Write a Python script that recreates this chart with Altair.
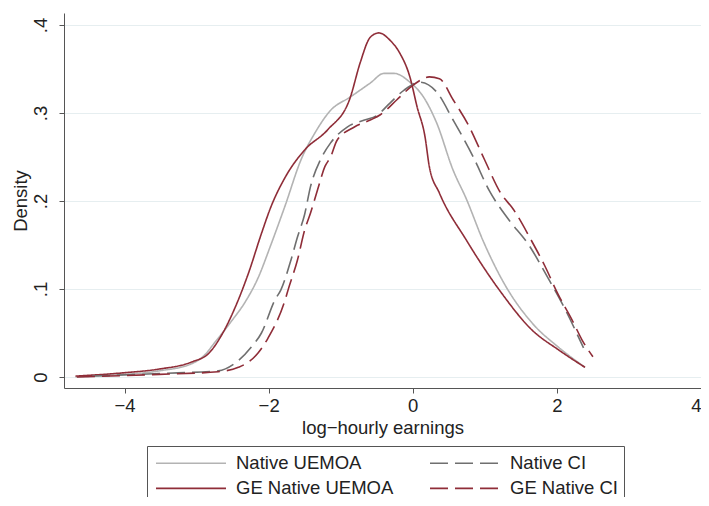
import altair as alt
import pandas as pd

FONT = "Liberation Sans"

series_names = ["Native UEMOA", "GE Native UEMOA", "Native CI", "GE Native CI"]

# Native UEMOA (light grey solid)
nu_x = [-4.68, -4.2, -3.98, -3.52, -3.07, -2.9, -2.74, -2.52, -2.32, -2.15, -1.97, -1.77, -1.55, -1.36,
        -1.14, -0.87, -0.59, -0.40, -0.26, -0.04, 0.15, 0.33, 0.56, 0.74, 0.98, 1.27, 1.66, 2.02, 2.39]
nu_y = [0.000, 0.002, 0.003, 0.007, 0.015, 0.024, 0.040, 0.063, 0.086, 0.112, 0.150, 0.195, 0.247, 0.277,
        0.303, 0.318, 0.334, 0.345, 0.345, 0.335, 0.318, 0.289, 0.235, 0.203, 0.154, 0.106, 0.061, 0.034, 0.011]

# GE Native UEMOA (maroon solid)
gu_x = [-4.68, -3.98, -3.52, -3.07, -2.83, -2.65, -2.46, -2.28, -2.10, -1.97, -1.77, -1.50, -1.18, -0.87,
        -0.73, -0.59, -0.47, -0.32, -0.18, -0.04, 0.06, 0.17, 0.23, 0.37, 0.74, 1.20, 1.66, 2.02, 2.39]
gu_y = [0.001, 0.005, 0.009, 0.017, 0.027, 0.048, 0.080, 0.118, 0.163, 0.193, 0.227, 0.258, 0.281, 0.317,
        0.357, 0.386, 0.391, 0.383, 0.368, 0.341, 0.307, 0.273, 0.239, 0.209, 0.156, 0.099, 0.053, 0.031, 0.011]

# Native CI (dark grey dashed)
nc_x = [-4.45, -3.52, -2.70, -2.46, -2.24, -2.10, -1.91, -1.83, -1.69, -1.60, -1.50, -1.42, -1.28, -1.14,
        -0.91, -0.67, -0.50, -0.32, -0.12, 0.10, 0.33, 0.56, 0.84, 1.06, 1.32, 1.61, 1.88, 2.12, 2.37]
nc_y = [0.001, 0.004, 0.007, 0.016, 0.034, 0.050, 0.088, 0.099, 0.133, 0.159, 0.185, 0.216, 0.247, 0.266,
        0.284, 0.292, 0.297, 0.311, 0.326, 0.335, 0.324, 0.292, 0.250, 0.212, 0.180, 0.150, 0.112, 0.076, 0.033]

# GE Native CI (maroon dashed)
gc_x = [-4.66, -3.52, -2.70, -2.42, -2.28, -2.15, -2.01, -1.77, -1.73, -1.60, -1.50, -1.42, -1.32, -1.22,
        -1.14, -1.05, -0.81, -0.59, -0.45, -0.22, 0.01, 0.23, 0.37, 0.56, 0.78, 0.99, 1.22, 1.40, 1.64,
        1.84, 2.01, 2.21, 2.35, 2.50]
gc_y = [0.000, 0.003, 0.006, 0.011, 0.017, 0.027, 0.044, 0.088, 0.099, 0.133, 0.167, 0.186, 0.213, 0.239,
        0.250, 0.269, 0.284, 0.292, 0.298, 0.315, 0.332, 0.341, 0.339, 0.315, 0.285, 0.248, 0.209, 0.190, 0.156,
        0.125, 0.095, 0.065, 0.042, 0.023]

x_ticks = [-4, -2, 0, 2, 4]
y_ticks = [0, 0.1, 0.2, 0.3, 0.4]

frames = []
for name, xs, ys in [("Native UEMOA", nu_x, nu_y), ("GE Native UEMOA", gu_x, gu_y),
                     ("Native CI", nc_x, nc_y), ("GE Native CI", gc_x, gc_y)]:
    frames.append(pd.DataFrame({"x": xs, "y": ys, "series": name}))
df = pd.concat(frames, ignore_index=True)

color_scale = alt.Scale(domain=series_names, range=["#b3b3b3", "#8f2d38", "#6f6f6f", "#8f2d38"])
dash_scale = alt.Scale(domain=series_names, range=[[1, 0], [1, 0], [18, 7], [18, 7]])

legend = alt.Legend(
    title=None, orient="none", legendX=83, legendY=433, columns=2,
    symbolType="M-3.5,0H3.5", symbolSize=400, symbolStrokeWidth=1.6,
    symbolOffset=27, labelOffset=34, symbolFillColor="transparent",
    labelFont=FONT, labelFontSize=18.5, labelColor="#222", labelLimit=0,
    strokeColor="#555", padding=6, rowPadding=4.4, columnPadding=32,
)

chart = alt.Chart(df).mark_line(strokeWidth=1.6, interpolate="monotone").encode(
    x=alt.X("x:Q",
            scale=alt.Scale(domain=[-4.84, 4.0], nice=False, zero=False),
            axis=alt.Axis(values=x_ticks, title="log−hourly earnings", grid=False,
                          labelFlush=True, labelPadding=3.5, titlePadding=3)),
    y=alt.Y("y:Q",
            scale=alt.Scale(domain=[-0.0125, 0.4136], nice=False, zero=False),
            axis=alt.Axis(values=y_ticks, title="Density", grid=True, gridColor="#e6eef0",
                          labelExpr="datum.value == 0 ? '0' : '.' + round(datum.value * 10)",
                          labelAngle=270, labelAlign="center", labelBaseline="bottom",
                          labelPadding=8.5, titlePadding=1)),
    color=alt.Color("series:N", scale=color_scale, legend=legend),
    strokeDash=alt.StrokeDash("series:N", scale=dash_scale, legend=legend),
).properties(
    width=637, height=375,
    padding={"left": 56, "top": 5, "right": 0, "bottom": 109},
    autosize=alt.AutoSizeParams(type="none"),
).configure_view(stroke=None).configure_axis(
    domainColor="#555", tickColor="#555", tickSize=5,
    labelFont=FONT, labelFontSize=18.5, labelColor="#222",
    titleFont=FONT, titleFontSize=18.5, titleFontWeight="normal", titleColor="#222",
)

chart.save("out.html", embed_options={"renderer": "svg", "actions": False})
